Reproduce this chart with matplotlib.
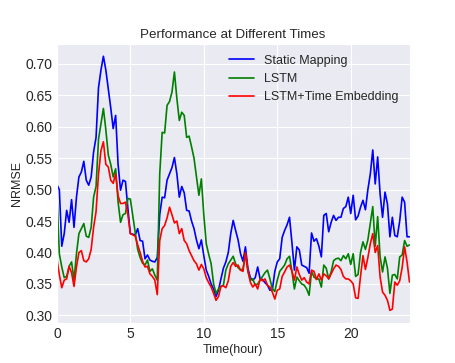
import numpy as np
import seaborn as sns
from matplotlib import pyplot as plt

# NRMSE of three models over one day, read every 10 minutes
hours = np.arange(145) / 6.0

static_mapping = [
    0.508, 0.500, 0.410, 0.430, 0.467, 0.448, 0.484, 0.440, 0.488, 0.520,
    0.528, 0.545, 0.515, 0.507, 0.520, 0.560, 0.583, 0.662, 0.690, 0.712,
    0.690, 0.660, 0.630, 0.597, 0.618, 0.540, 0.499, 0.515, 0.513, 0.470,
    0.430, 0.429, 0.428, 0.438, 0.419, 0.418, 0.390, 0.396, 0.388, 0.386,
    0.385, 0.392, 0.460, 0.488, 0.487, 0.515, 0.525, 0.535, 0.551, 0.525,
    0.488, 0.505, 0.495, 0.467, 0.466, 0.450, 0.438, 0.420, 0.406, 0.420,
    0.395, 0.372, 0.362, 0.350, 0.342, 0.330, 0.340, 0.358, 0.375, 0.385,
    0.400, 0.430, 0.451, 0.435, 0.420, 0.398, 0.386, 0.409, 0.375, 0.360,
    0.356, 0.360, 0.377, 0.358, 0.357, 0.352, 0.348, 0.340, 0.341, 0.370,
    0.385, 0.390, 0.424, 0.435, 0.444, 0.456, 0.415, 0.372, 0.409, 0.404,
    0.380, 0.378, 0.376, 0.367, 0.431, 0.418, 0.422, 0.410, 0.393, 0.459,
    0.462, 0.433, 0.448, 0.459, 0.451, 0.456, 0.456, 0.470, 0.473, 0.488,
    0.462, 0.491, 0.452, 0.458, 0.472, 0.483, 0.468, 0.500, 0.525, 0.563,
    0.509, 0.552, 0.493, 0.456, 0.496, 0.477, 0.425, 0.456, 0.427, 0.425,
    0.450, 0.488, 0.480, 0.425, 0.425,
]

lstm = [
    0.493, 0.398, 0.377, 0.360, 0.362, 0.378, 0.385, 0.356, 0.398, 0.430,
    0.438, 0.446, 0.426, 0.424, 0.440, 0.488, 0.505, 0.580, 0.605, 0.629,
    0.595, 0.555, 0.540, 0.520, 0.533, 0.480, 0.448, 0.460, 0.462, 0.486,
    0.485, 0.458, 0.432, 0.405, 0.392, 0.383, 0.380, 0.388, 0.370, 0.374,
    0.364, 0.356, 0.525, 0.591, 0.590, 0.634, 0.640, 0.655, 0.687, 0.645,
    0.610, 0.623, 0.618, 0.583, 0.585, 0.568, 0.550, 0.520, 0.491, 0.517,
    0.460, 0.414, 0.397, 0.382, 0.350, 0.335, 0.342, 0.346, 0.348, 0.372,
    0.382, 0.388, 0.394, 0.382, 0.376, 0.372, 0.374, 0.398, 0.370, 0.356,
    0.358, 0.348, 0.350, 0.356, 0.362, 0.368, 0.372, 0.358, 0.342, 0.338,
    0.356, 0.370, 0.375, 0.380, 0.390, 0.394, 0.370, 0.342, 0.361, 0.355,
    0.350, 0.348, 0.342, 0.332, 0.370, 0.361, 0.358, 0.358, 0.345, 0.380,
    0.375, 0.358, 0.369, 0.387, 0.390, 0.391, 0.387, 0.395, 0.390, 0.398,
    0.381, 0.398, 0.362, 0.365, 0.400, 0.417, 0.405, 0.420, 0.446, 0.473,
    0.410, 0.457, 0.393, 0.369, 0.393, 0.375, 0.335, 0.364, 0.365, 0.358,
    0.393, 0.396, 0.419, 0.410, 0.412,
]

lstm_time = [
    0.390, 0.365, 0.344, 0.356, 0.358, 0.378, 0.368, 0.346, 0.377, 0.400,
    0.403, 0.387, 0.385, 0.390, 0.405, 0.440, 0.465, 0.525, 0.562, 0.576,
    0.540, 0.536, 0.515, 0.510, 0.525, 0.490, 0.478, 0.478, 0.480, 0.460,
    0.430, 0.428, 0.426, 0.412, 0.400, 0.386, 0.377, 0.378, 0.366, 0.362,
    0.356, 0.333, 0.419, 0.438, 0.443, 0.455, 0.472, 0.460, 0.447, 0.450,
    0.430, 0.438, 0.419, 0.414, 0.403, 0.395, 0.387, 0.382, 0.372, 0.381,
    0.374, 0.360, 0.352, 0.345, 0.335, 0.324, 0.330, 0.346, 0.347, 0.344,
    0.355, 0.378, 0.384, 0.378, 0.380, 0.372, 0.370, 0.400, 0.372, 0.353,
    0.345, 0.350, 0.342, 0.358, 0.355, 0.358, 0.348, 0.345, 0.337, 0.326,
    0.340, 0.342, 0.362, 0.369, 0.377, 0.380, 0.370, 0.356, 0.377, 0.365,
    0.356, 0.360, 0.353, 0.350, 0.372, 0.370, 0.357, 0.366, 0.356, 0.366,
    0.363, 0.358, 0.366, 0.374, 0.380, 0.378, 0.373, 0.362, 0.358, 0.358,
    0.355, 0.350, 0.328, 0.327, 0.362, 0.395, 0.373, 0.392, 0.414, 0.430,
    0.400, 0.411, 0.361, 0.337, 0.332, 0.324, 0.308, 0.310, 0.353, 0.348,
    0.355, 0.376, 0.409, 0.385, 0.353,
]

sns.set_style('darkgrid')
plt.rcParams['font.family'] = ['Liberation Sans', 'DejaVu Sans']

fig, ax = plt.subplots(figsize=(4.55, 3.63), dpi=100)
ax.plot(hours, static_mapping, color='b', lw=1.2, label='Static Mapping')
ax.plot(hours, lstm, color='g', lw=1.2, label='LSTM')
ax.plot(hours, lstm_time, color='r', lw=1.2, label='LSTM+Time Embedding')

ax.set_xlim(0, 24)
ax.set_title('Performance at Different Times', fontsize=9.6, pad=4)
ax.set_xlabel('Time(hour)', fontsize=9, labelpad=2)
ax.set_ylabel('NRMSE', fontsize=9, labelpad=2)
ax.tick_params(labelsize=10, length=0, pad=3)
ax.legend(loc='upper right', fontsize=9, frameon=False)

fig.savefig('out.png', dpi=100)
